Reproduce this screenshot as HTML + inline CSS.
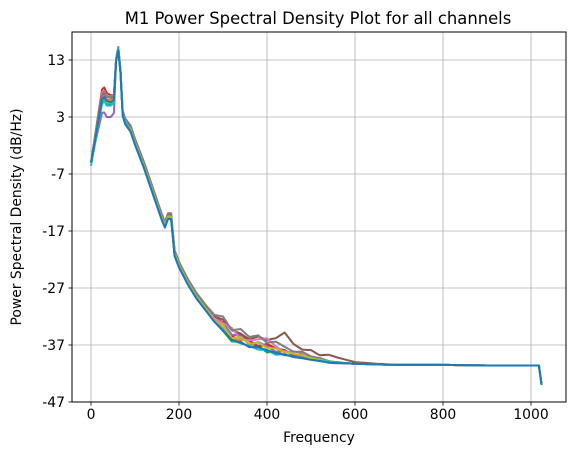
<!DOCTYPE html>
<html><head><meta charset="utf-8"><style>
html,body{margin:0;padding:0;background:#fff;}
svg text{font-family:"DejaVu Sans","Liberation Sans",sans-serif;fill:#000;}
</style></head><body>
<svg id="chart" width="574" height="455" viewBox="0 0 574 455" xmlns="http://www.w3.org/2000/svg">
<rect width="574" height="455" fill="#fff"/>
<text x="318" y="24" font-size="16.4" text-anchor="middle">M1 Power Spectral Density Plot for all channels</text>
<g id="grid"></g>
<g id="lines"></g>
<g id="axes"></g>
<text x="319" y="442" font-size="13.9" text-anchor="middle">Frequency</text>
<text x="0" y="0" font-size="13.9" text-anchor="middle" transform="translate(21,217) rotate(-90)">Power Spectral Density (dB/Hz)</text>
</svg>
<script>
const xTicks=[0,200,400,600,800,1000];
const yTicks=[13,3,-7,-17,-27,-37,-47];
const freqs=[0,10,20,25,30,36,45,52,57,62,67,72,78,90,100,120,140,160,168,175,182,190,200,220,240,260,280,300,320,340,360,380,400,420,440,460,480,500,520,540,560,580,600,650,700,800,900,1018,1024];
const baseDb=[-5,-0.5,4,6.5,7,6.2,6,6.3,13,15,11,3.5,2,0.8,-1.5,-5.5,-10,-14.5,-16,-14.5,-14.5,-21,-23,-26,-28.5,-30.5,-32.5,-33.5,-35,-35.8,-36.5,-36.8,-37.3,-37.8,-38.2,-38.6,-39,-39.3,-39.6,-39.9,-40.1,-40.2,-40.3,-40.4,-40.5,-40.5,-40.6,-40.6,-44];
const chOrange=[0,0,0.3,0,0,-0.2,0,0,0,0,0,0,0, 0.2,0.2,0.2,0.2,0.2,0.2,0.2,0.2,0.2,0.2,0.2,0.2,0.2, 0,-0.6,-1,-0.3,0.4,-0.5,0.3,-0.6,0.2,0,-0.3,0,0.1,0,0,0,0, 0,0,0,0,0,0];
const chGreen=[0,-0.3,-0.6,-1,-1,-1,-0.8,-0.6,0,0,0,0,0, -0.2,-0.2,-0.2,-0.2,-0.2,-0.2,-0.2,-0.2,-0.2,-0.2,-0.2,-0.2,-0.2, -0.3,-1,-1.4,-0.6,-0.9,-0.3,-1,-0.4,-0.6,-0.2,0,-0.2,0,0,0,0,0, 0,0,0,0,0,0];
const chRed=[0,0.6,1.2,1.3,1.2,1.0,0.8,0.5,0,0,0,0,0, 0,0,0,0,0,0,0,0,0,0,0,0,0, 0.3,0.5,-0.5,0.8,0.2,-0.4,0.5,0.2,0.3,-0.2,0.4,0.1,0.2,0,0.1,0,0, 0,0,0,0,0,0];
const chPurple=[0,-0.8,-2,-2.8,-3.2,-3.2,-3,-2.6,0,0,0,0,0, 0,0,0,0,0,0,0,0,0,0,0,0,0, 0,0.4,-0.2,0.5,-0.5,0.3,0.1,-0.4,0.2,0,0,0,0,0,0,0,0, 0,0,0,0,0,0];
const chBrown=[0,0.3,0.5,0.4,0.2,0.3,0.4,0.2,0,0,0,0,0, 0.5,0.5,0.5,0.5,0.5,0.5,0.5,0.5,0.5,0.5,0.5,0.5,0.5, 0.5,1,0.6,0.8,0.5,1.3,1.2,2,3.4,1.8,1.2,1.4,0.8,1.2,0.9,0.6,0.3, 0.1,0,0,0,0,0];
const chPink=[0,0.2,0.7,0.8,0.6,0.5,0.6,0.4,0,0,0,0,0, 0,0,0,0,0,0,0,0,0,0,0,0,0, 0.2,0.3,1,-0.2,0.3,0.8,1.5,0.6,-0.2,0.5,0.6,-0.2,0.3,0,0,0,0, 0,0,0,0,0,0];
const chGray=[0,0.4,0.6,0.5,0.4,0.3,0.5,0.3,0.3,0.3,0.3,0.6,0.7, 0.7,0.7,0.7,0.7,0.7,0.6,0.6,0.6,0.6,0.6,0.6,0.6,0.6, 0.8,1.5,0.6,1.6,0.9,1.5,0.7,1.4,0.9,0.4,0.8,0.3,0.3,0.1,0,0,0, 0,0,0,0,0,0];
const chOlive=[0,0,-0.4,-0.5,-0.6,-0.6,-0.5,-0.4,0,0,0,0,0, 0,0,0,0,0,0,0,0,0,0,0,0,0, -0.2,0,-0.8,0.2,-0.3,0.2,-0.2,0.2,0,0.1,0.2,0,0,0,0,0,0, 0,0,0,0,0,0];
const chCyan=[-0.6,-0.8,-1,-1.2,-1.2,-1.2,-1,-0.8,0,0,0,0,0, -0.3,-0.3,-0.3,-0.3,-0.3,-0.3,-0.3,-0.3,-0.3,-0.3,-0.3,-0.3,-0.3, -0.4,-0.8,-1.2,-0.9,-0.7,-1,-0.6,-0.9,-0.4,-0.5,-0.3,-0.3,-0.2,0,0,0,0, 0,0,0,0,0,0];
const chBlue=[0,-0.2,-0.3,-0.4,-0.5,-0.4,-0.4,-0.3,-0.3,-0.3,-0.3,-0.3,-0.3, -0.4,-0.4,-0.4,-0.4,-0.4,-0.4,-0.4,-0.4,-0.4,-0.4,-0.4,-0.4,-0.4, -0.4,-1,-1.1,-0.8,-0.8,-0.6,-0.6,-0.6,-0.5,-0.5,-0.3,-0.3,-0.2,-0.2,-0.1,0,0, 0,0,0,0,0,0];
const channels=[chOrange,chGreen,chRed,chPurple,chBrown,chPink,chGray,chOlive,chCyan,chBlue];
const colors=["#ff7f0e","#2ca02c","#d62728","#9467bd","#8c564b","#e377c2","#7f7f7f","#bcbd22","#17becf","#1f77b4"];

const L=72,R=566,T=32,B=402;
const xS=f=>91+f*0.44;
const yS=v=>60+(13-v)*5.7;
const NS="http://www.w3.org/2000/svg";
const grid=document.getElementById('grid'),lines=document.getElementById('lines'),axes=document.getElementById('axes');
function mk(tag,attrs,parent){const e=document.createElementNS(NS,tag);for(const k in attrs)e.setAttribute(k,attrs[k]);parent.appendChild(e);return e;}
xTicks.forEach(t=>{const x=xS(t);
 const g=mk('line',{x1:x,x2:x,y1:T,y2:B,stroke:'#b0b0b0','stroke-width':0.8},grid);
 
 
 const tk=mk('line',{x1:x,x2:x,y1:B,y2:B+3.5,stroke:'#000','stroke-width':0.8},axes);
 
 
 const tx=mk('text',{x:x,y:B+17,'font-size':13.9,'text-anchor':'middle'},axes);tx.textContent=t;
 
 
});
yTicks.forEach(t=>{const y=yS(t);
 const g=mk('line',{x1:L,x2:R,y1:y,y2:y,stroke:'#b0b0b0','stroke-width':0.8},grid);
 
 
 const tk=mk('line',{x1:L-3.5,x2:L,y1:y,y2:y,stroke:'#000','stroke-width':0.8},axes);
 
 
 const tx=mk('text',{x:L-7,y:y+5,'font-size':13.9,'text-anchor':'end'},axes);tx.textContent=t;
 
 
});
channels.forEach((d,ci)=>{
 const pts=freqs.map((f,i)=>xS(f).toFixed(1)+','+yS(baseDb[i]+d[i]).toFixed(1)).join(' ');
 const p=mk('polyline',{points:pts,fill:'none',stroke:colors[ci],'stroke-width':2,'stroke-linejoin':'round'},lines);
 
 
});
const fr=mk('rect',{x:L,y:T,width:R-L,height:B-T,fill:'none',stroke:'#000','stroke-width':1},axes);


</script>
</body></html>
